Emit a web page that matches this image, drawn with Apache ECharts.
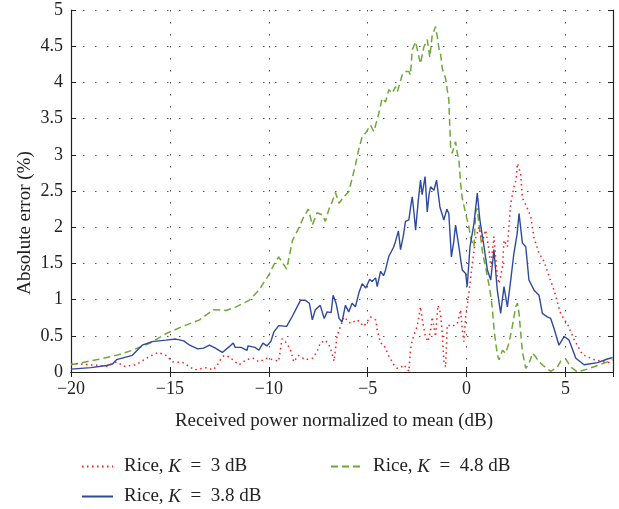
<!DOCTYPE html>
<html>
<head>
<meta charset="utf-8">
<script src="https://cdn.jsdelivr.net/npm/echarts@6/dist/echarts.min.js"></script>
<style>
  html, body { margin: 0; padding: 0; background: #fff; }
  #chart { width: 619px; height: 509px; }
</style>
</head>
<body>
<div id="chart"></div>
<script>
// x values (dB) and absolute error (%)
const blueX = [-20, -19, -18.2, -17.9, -17.7, -16.9, -16.4, -15.9, -15.2, -14.7, -14.3, -14.0, -13.6, -13.3, -13.0, -12.7, -12.35, -12.0, -11.8, -11.7, -11.4, -11.1, -11.05, -10.7, -10.5, -10.3, -10.1, -9.9, -9.75, -9.5, -9.1, -8.83, -8.4, -8.15, -7.95, -7.8, -7.65, -7.4, -7.2, -7.05, -6.85, -6.75, -6.6, -6.45, -6.3, -6.13, -5.96, -5.79, -5.62, -5.45, -5.28, -5.1, -4.9, -4.78, -4.6, -4.52, -4.35, -4.2, -4.1, -3.93, -3.85, -3.7, -3.6, -3.45, -3.34, -3.2, -3.09, -2.92, -2.82, -2.75, -2.66, -2.58, -2.45, -2.33, -2.25, -2.16, -2.1, -1.99, -1.9, -1.82, -1.65, -1.52, -1.35, -1.15, -1.0, -0.9, -0.77, -0.65, -0.56, -0.39, -0.3, -0.22, -0.05, 0.03, 0.17, 0.37, 0.54, 0.67, 0.88, 1.05, 1.22, 1.38, 1.55, 1.72, 1.89, 2.06, 2.23, 2.39, 2.55, 2.65, 2.82, 2.99, 3.15, 3.41, 3.66, 3.83, 4.08, 4.25, 4.42, 4.67, 4.93, 5.18, 5.52, 5.94, 6.62, 7.12, 7.38];
const blueY = [0.04, 0.06, 0.09, 0.11, 0.17, 0.23, 0.37, 0.42, 0.44, 0.455, 0.43, 0.37, 0.32, 0.33, 0.37, 0.33, 0.27, 0.35, 0.40, 0.34, 0.34, 0.30, 0.36, 0.34, 0.30, 0.40, 0.36, 0.42, 0.55, 0.64, 0.63, 0.76, 0.99, 0.99, 0.95, 0.72, 0.86, 0.92, 0.74, 0.83, 0.82, 1.06, 0.95, 0.74, 0.69, 0.92, 0.83, 0.95, 0.90, 1.09, 1.22, 1.16, 1.28, 1.25, 1.30, 1.18, 1.39, 1.33, 1.41, 1.60, 1.64, 1.72, 1.80, 1.95, 1.69, 1.88, 2.08, 2.10, 2.30, 2.42, 2.20, 1.96, 2.35, 2.65, 2.45, 2.47, 2.70, 2.21, 2.45, 2.56, 2.51, 2.65, 2.28, 2.10, 2.25, 2.19, 1.59, 1.80, 2.03, 1.73, 1.55, 1.41, 1.36, 1.18, 1.73, 2.05, 2.47, 2.10, 1.73, 1.41, 1.27, 1.69, 1.13, 0.81, 1.18, 0.90, 1.27, 1.64, 1.90, 2.19, 1.78, 1.73, 1.27, 1.13, 1.06, 0.81, 0.76, 0.74, 0.60, 0.37, 0.49, 0.44, 0.19, 0.10, 0.13, 0.18, 0.20];

const greenX = [-20, -18.6, -17.7, -16.9, -16.0, -15.2, -14.35, -13.5, -12.8, -12.15, -11.65, -11.0, -10.5, -9.96, -9.75, -9.5, -9.1, -8.8, -8.5, -8.24, -8.0, -7.8, -7.56, -7.3, -7.14, -6.97, -6.8, -6.63, -6.45, -6.21, -5.96, -5.79, -5.62, -5.45, -5.28, -5.11, -4.95, -4.86, -4.69, -4.44, -4.27, -4.1, -3.93, -3.76, -3.6, -3.5, -3.26, -3.09, -2.92, -2.84, -2.75, -2.58, -2.41, -2.33, -2.16, -1.99, -1.86, -1.74, -1.57, -1.48, -1.4, -1.32, -1.23, -1.06, -0.98, -0.9, -0.85, -0.81, -0.73, -0.56, -0.47, -0.39, -0.3, -0.22, -0.13, -0.05, 0.12, 0.2, 0.37, 0.46, 0.54, 0.62, 0.8, 0.88, 1.05, 1.18, 1.3, 1.4, 1.55, 1.64, 1.81, 1.97, 2.14, 2.31, 2.48, 2.57, 2.65, 2.73, 2.82, 2.99, 3.16, 3.33, 3.49, 3.66, 3.91, 4.25, 4.59, 4.76, 5.01, 5.27, 5.6, 6.1, 6.62, 7.12, 7.38];
const greenY = [0.10, 0.175, 0.23, 0.30, 0.40, 0.53, 0.63, 0.72, 0.86, 0.85, 0.90, 0.99, 1.13, 1.36, 1.48, 1.59, 1.42, 1.82, 1.98, 2.14, 2.25, 2.03, 2.20, 2.17, 2.08, 2.24, 2.35, 2.48, 2.33, 2.42, 2.49, 2.67, 2.86, 3.08, 3.25, 3.30, 3.37, 3.41, 3.32, 3.57, 3.78, 3.73, 3.90, 3.85, 3.94, 3.87, 4.10, 4.15, 4.15, 4.10, 4.45, 4.56, 4.35, 4.26, 4.49, 4.59, 4.35, 4.65, 4.77, 4.63, 4.47, 4.40, 4.19, 4.05, 3.90, 3.76, 3.39, 3.11, 3.02, 3.18, 3.02, 2.93, 2.60, 2.40, 2.38, 2.19, 2.00, 1.85, 1.73, 2.21, 2.26, 2.05, 1.66, 1.55, 1.32, 1.13, 0.88, 0.55, 0.24, 0.17, 0.30, 0.26, 0.40, 0.63, 0.90, 0.95, 0.81, 0.55, 0.28, 0.05, 0.12, 0.26, 0.21, 0.14, 0.08, 0.01, 0.07, 0.15, 0.18, 0.07, 0.00, 0.04, 0.09, 0.14, 0.17];

const redX = [-20, -19, -18.2, -17.7, -17.3, -16.7, -16.2, -15.6, -15.2, -14.85, -14.35, -13.75, -13.4, -13.2, -12.8, -12.6, -12.4, -12.25, -12.0, -11.7, -11.5, -11.14, -10.8, -10.5, -10.1, -9.8, -9.5, -9.33, -9.1, -8.9, -8.74, -8.5, -8.15, -7.8, -7.56, -7.4, -7.14, -6.89, -6.7, -6.55, -6.2, -5.87, -5.53, -5.2, -4.86, -4.6, -4.52, -4.35, -4.19, -3.93, -3.68, -3.5, -3.3, -3.17, -2.92, -2.84, -2.75, -2.5, -2.33, -2.24, -2.08, -1.95, -1.82, -1.74, -1.57, -1.45, -1.32, -1.23, -1.15, -1.06, -0.98, -0.73, -0.47, -0.3, -0.22, -0.14, -0.05, 0.12, 0.29, 0.46, 0.62, 0.8, 0.96, 1.13, 1.22, 1.38, 1.55, 1.64, 1.81, 1.89, 2.06, 2.23, 2.39, 2.5, 2.57, 2.73, 2.82, 2.99, 3.24, 3.41, 3.66, 3.91, 4.17, 4.42, 4.76, 5.1, 5.43, 5.86, 6.45, 7.12, 7.38];
const redY = [0.12, 0.10, 0.08, 0.14, 0.08, 0.10, 0.19, 0.27, 0.23, 0.14, 0.13, 0.03, 0.05, 0.06, 0.03, 0.10, 0.19, 0.23, 0.21, 0.14, 0.10, 0.17, 0.19, 0.14, 0.19, 0.17, 0.15, 0.46, 0.40, 0.30, 0.14, 0.23, 0.17, 0.19, 0.28, 0.40, 0.44, 0.34, 0.15, 0.50, 0.76, 0.67, 0.72, 0.63, 0.76, 0.72, 0.58, 0.40, 0.38, 0.22, 0.10, 0.05, 0.07, 0.10, 0.01, 0.30, 0.44, 0.63, 0.90, 0.72, 0.49, 0.42, 0.58, 0.76, 0.49, 0.92, 0.81, 0.53, 0.15, 0.07, 0.65, 0.63, 0.67, 0.86, 0.58, 0.42, 0.76, 1.10, 1.50, 1.85, 2.00, 1.80, 1.96, 1.69, 1.45, 1.87, 1.32, 1.22, 1.45, 1.82, 1.73, 2.33, 2.56, 2.65, 2.88, 2.74, 2.40, 2.31, 2.15, 1.85, 1.64, 1.53, 1.32, 1.13, 0.80, 0.66, 0.45, 0.24, 0.17, 0.13, 0.14];

const names = ['Rice, K = 3 dB', 'Rice, K = 3.8 dB', 'Rice, K = 4.8 dB'];
const kLabels = ['3', '3.8', '4.8'];

const zip = (xs, ys) => xs.map((x, i) => [x, ys[i]]);
const font = '"Liberation Serif", "DejaVu Serif", serif';
const sp = '\u2002';

const legendFor = (i, left, top) => ({
  data: [names[i]],
  left: left,
  top: top,
  itemWidth: 31,
  itemHeight: 10,
  itemStyle: { opacity: 0 },
  formatter: () => '{a|Rice, }{k|K}{a|' + sp + '=' + sp + kLabels[i] + ' dB}',
  textStyle: {
    fontFamily: font, fontSize: 19, color: '#222',
    rich: {
      a: { fontFamily: font, fontSize: 19, color: '#222' },
      k: { fontFamily: font, fontSize: 19, color: '#222', fontStyle: 'italic' }
    },
    padding: [0, 0, 0, 6]
  }
});

const chart = echarts.init(document.getElementById('chart'));
const gridLine = { show: true, lineStyle: { color: '#555', type: [1.5, 10.5], width: 1 } };

chart.setOption({
  animation: false,
  backgroundColor: '#fff',
  grid: { left: 71, right: 6, top: 10, bottom: 137 },
  legend: [
    legendFor(0, 76, 452),
    legendFor(2, 325, 452),
    legendFor(1, 76, 482)
  ],
  graphic: [{
    type: 'text',
    x: 25, y: 223,
    rotation: Math.PI / 2,
    style: {
      text: 'Absolute error (%)',
      font: '19px ' + font,
      fill: '#222',
      align: 'center',
      verticalAlign: 'middle'
    }
  }],
  xAxis: [{
    type: 'value', min: -20, max: 7.4, interval: 5,
    name: 'Received power normalized to mean (dB)',
    nameLocation: 'middle', nameGap: 40,
    nameTextStyle: { fontFamily: font, fontSize: 19, color: '#222', padding: [0, 16, 0, 0] },
    axisLine: { lineStyle: { color: '#222', width: 1.2 } },
    axisTick: { inside: true, length: 5, lineStyle: { color: '#222' } },
    axisLabel: {
      fontFamily: font, fontSize: 18, color: '#222', margin: 8, showMaxLabel: false,
      formatter: v => String(v).replace('-', '\u2212')
    },
    splitLine: gridLine
  }, {
    type: 'value', min: -20, max: 7.4, interval: 5, position: 'top',
    axisLine: { lineStyle: { color: '#222', width: 1.2 } },
    axisTick: { inside: true, length: 5, lineStyle: { color: '#222' } },
    axisLabel: { show: false }, splitLine: { show: false }
  }],
  yAxis: [{
    type: 'value', min: 0, max: 5, interval: 0.5,
    axisLine: { show: true, onZero: false, lineStyle: { color: '#222', width: 1.2 } },
    axisTick: { show: true, inside: true, length: 5, lineStyle: { color: '#222' } },
    axisLabel: { fontFamily: font, fontSize: 18, color: '#222', margin: 8 },
    splitLine: gridLine
  }, {
    type: 'value', min: 0, max: 5, interval: 0.5, position: 'right',
    axisLine: { show: true, onZero: false, lineStyle: { color: '#222', width: 1.2 } },
    axisTick: { show: true, inside: true, length: 5, lineStyle: { color: '#222' } },
    axisLabel: { show: false }, splitLine: { show: false }
  }],
  series: [{
    name: names[0], type: 'line', symbol: 'none', z: 3,
    lineStyle: { color: '#ff1a1a', width: 1.5, type: [1.5, 3.5] },
    itemStyle: { color: '#ff1a1a' },
    data: zip(redX, redY)
  }, {
    name: names[1], type: 'line', symbol: 'none', z: 2,
    lineStyle: { color: '#2d4a9e', width: 1.4 },
    itemStyle: { color: '#2d4a9e' },
    data: zip(blueX, blueY)
  }, {
    name: names[2], type: 'line', symbol: 'none', z: 1,
    lineStyle: { color: '#6ea83a', width: 1.5, type: [7, 4] },
    itemStyle: { color: '#6ea83a' },
    data: zip(greenX, greenY)
  }]
});
</script>
</body>
</html>
